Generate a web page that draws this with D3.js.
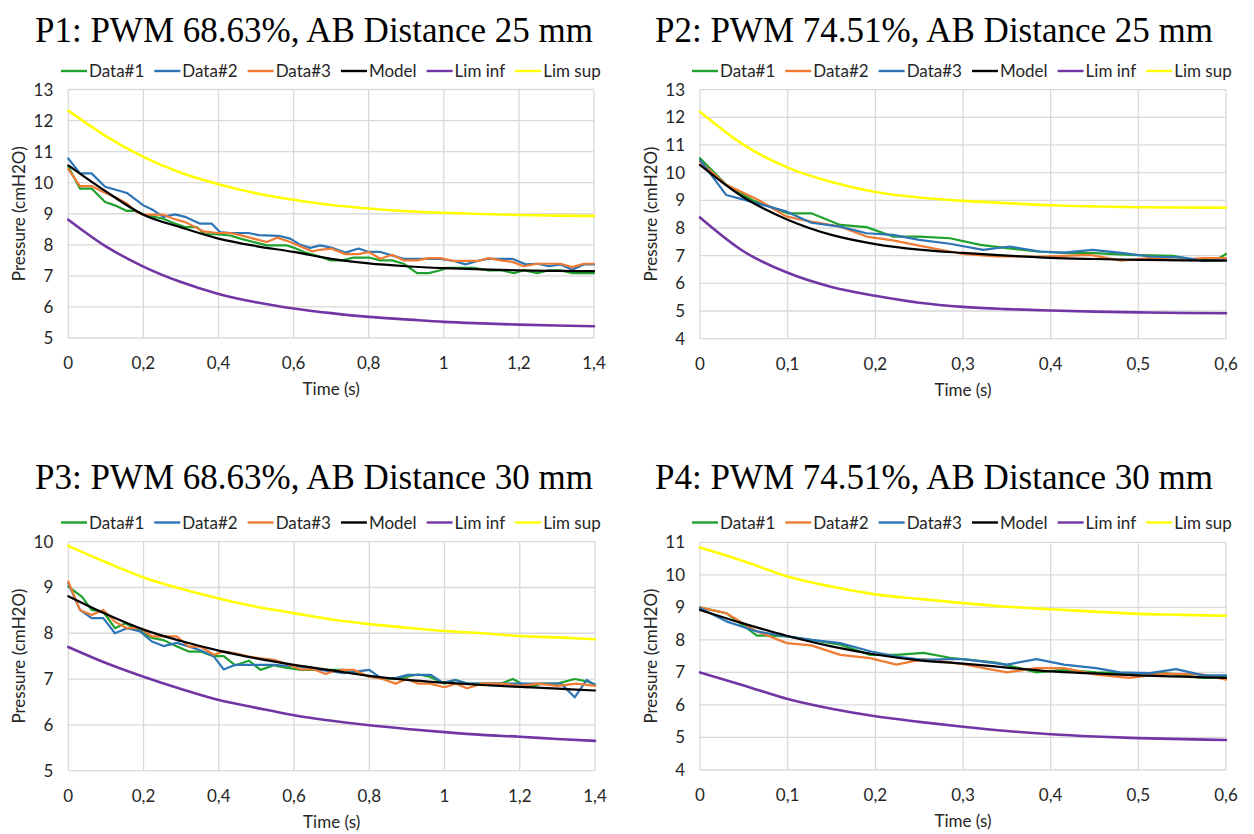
<!DOCTYPE html>
<html>
<head>
<meta charset="utf-8">
<script src="https://cdn.jsdelivr.net/npm/d3@7"></script>
<style>
    body { margin: 0; background: #fff; }
    svg { display: block; font-family: Lato, "Open Sans", sans-serif; }
    .grid line { stroke: #d9d9d9; stroke-width: 1.3; }
    .tick-label { font-size: 17px; fill: #262626; }
    .axis-title { font-size: 17px; fill: #262626; }
    .legend text { font-size: 17px; fill: #262626; }
    .title { font-family: "Liberation Serif", "Times New Roman", serif; font-size: 35px; fill: #000; }
    .line { fill: none; stroke-linejoin: round; stroke-linecap: round; }
</style>
</head>
<body>
<svg id="chart" width="1254" height="834"></svg>
<script>
// ---- Data (time in s, pressure in cmH2O) ----

const SERIES_NAMES = ['Data#1', 'Data#2', 'Data#3', 'Model', 'Lim inf', 'Lim sup'];

// P1: PWM 68.63%, AB 25 mm
const p1Data1 = [[0,10.51],[0.031,9.81],[0.062,9.81],[0.098,9.38],[0.124,9.27],[0.156,9.09],[0.18,9.09],[0.2,8.98],[0.253,8.84],[0.28,8.7],[0.311,8.57],[0.342,8.57],[0.364,8.34],[0.395,8.34],[0.431,8.3],[0.458,8.2],[0.493,8.09],[0.529,7.98],[0.582,7.98],[0.6,7.91],[0.627,7.77],[0.658,7.66],[0.7,7.5],[0.73,7.5],[0.76,7.59],[0.8,7.59],[0.831,7.5],[0.862,7.5],[0.893,7.39],[0.929,7.09],[0.96,7.09],[0.991,7.18],[1.009,7.26],[1.044,7.26],[1.08,7.26],[1.116,7.18],[1.151,7.18],[1.187,7.09],[1.213,7.18],[1.249,7.09],[1.28,7.18],[1.311,7.18],[1.342,7.09],[1.4,7.09]];
const p1Data2 = [[0,10.78],[0.031,10.3],[0.062,10.3],[0.098,9.87],[0.124,9.78],[0.156,9.67],[0.2,9.27],[0.227,9.11],[0.253,8.9],[0.284,8.98],[0.311,8.9],[0.351,8.68],[0.382,8.68],[0.404,8.41],[0.431,8.38],[0.48,8.38],[0.507,8.31],[0.56,8.29],[0.591,8.2],[0.618,8.0],[0.644,7.9],[0.671,7.98],[0.7,7.91],[0.738,7.75],[0.773,7.88],[0.8,7.77],[0.831,7.77],[0.862,7.66],[0.893,7.55],[0.929,7.55],[0.96,7.55],[0.991,7.55],[1.027,7.48],[1.058,7.37],[1.089,7.48],[1.12,7.55],[1.151,7.55],[1.182,7.55],[1.218,7.37],[1.249,7.39],[1.28,7.31],[1.311,7.37],[1.342,7.2],[1.373,7.37],[1.4,7.37]];
const p1Data3 = [[0,10.44],[0.031,9.89],[0.062,9.89],[0.093,9.7],[0.124,9.54],[0.156,9.33],[0.182,9.06],[0.2,8.97],[0.253,8.97],[0.28,8.84],[0.311,8.73],[0.338,8.57],[0.36,8.43],[0.396,8.38],[0.431,8.38],[0.458,8.31],[0.493,8.2],[0.529,8.09],[0.556,8.23],[0.591,8.09],[0.622,7.93],[0.649,7.79],[0.671,7.84],[0.7,7.88],[0.738,7.7],[0.773,7.7],[0.8,7.77],[0.831,7.55],[0.862,7.68],[0.893,7.5],[0.929,7.5],[0.96,7.57],[0.991,7.57],[1.027,7.48],[1.058,7.48],[1.089,7.48],[1.12,7.57],[1.151,7.5],[1.182,7.45],[1.213,7.31],[1.249,7.39],[1.28,7.39],[1.311,7.39],[1.342,7.28],[1.373,7.39],[1.4,7.39]];
const p1SmoothTime = [0,0.1,0.2,0.3,0.4,0.5,0.6,0.7,0.8,0.9,1.0,1.1,1.2,1.3,1.4];
const p1Model  = [10.56,9.72,8.97,8.56,8.2,7.96,7.77,7.55,7.4,7.31,7.25,7.21,7.18,7.16,7.15];
const p1LimInf = [8.81,7.95,7.3,6.8,6.42,6.15,5.95,5.8,5.68,5.6,5.52,5.47,5.43,5.4,5.38];
const p1LimSup = [12.32,11.5,10.83,10.32,9.95,9.66,9.45,9.28,9.17,9.08,9.03,8.99,8.96,8.94,8.93];

// P2: PWM 74.51%, AB 25 mm
const p2Data1 = [[0,10.52],[0.03,9.56],[0.06,9.0],[0.1,8.53],[0.127,8.53],[0.16,8.11],[0.19,8.03],[0.22,7.69],[0.25,7.69],[0.285,7.63],[0.32,7.39],[0.35,7.27],[0.385,7.15],[0.42,7.09],[0.45,7.09],[0.49,7.03],[0.54,6.99],[0.56,6.87],[0.59,6.87],[0.6,7.06]];
const p2Data2 = [[0,10.4],[0.03,9.56],[0.065,9.04],[0.099,8.41],[0.127,8.23],[0.16,8.05],[0.19,7.69],[0.22,7.55],[0.25,7.36],[0.285,7.15],[0.3,7.06],[0.338,6.97],[0.388,6.97],[0.415,6.99],[0.445,7.03],[0.48,6.82],[0.513,6.91],[0.543,6.85],[0.574,6.91],[0.6,6.91]];
const p2Data3 = [[0,10.46],[0.03,9.19],[0.053,9.0],[0.099,8.59],[0.127,8.19],[0.16,8.05],[0.19,7.81],[0.22,7.75],[0.25,7.57],[0.285,7.43],[0.323,7.21],[0.353,7.33],[0.388,7.15],[0.415,7.11],[0.448,7.21],[0.483,7.09],[0.513,6.97],[0.551,6.93],[0.574,6.81],[0.6,6.84]];
const p2SmoothTime = [0,0.05,0.1,0.15,0.2,0.25,0.3,0.35,0.4,0.45,0.5,0.55,0.6];
const p2Model  = [10.28,9.1,8.3,7.75,7.42,7.22,7.1,7.0,6.92,6.88,6.85,6.83,6.82];
const p2LimInf = [8.38,7.15,6.38,5.87,5.55,5.3,5.15,5.07,5.02,4.98,4.95,4.93,4.92];
const p2LimSup = [12.2,11.0,10.18,9.66,9.3,9.1,8.98,8.9,8.82,8.78,8.75,8.74,8.73];

// P3: PWM 68.63%, AB 30 mm
const p3Data1 = [[0,9.02],[0.036,8.8],[0.062,8.51],[0.093,8.47],[0.124,8.11],[0.151,8.22],[0.191,8.05],[0.222,7.9],[0.253,7.85],[0.289,7.71],[0.32,7.6],[0.351,7.6],[0.387,7.5],[0.413,7.5],[0.444,7.3],[0.48,7.4],[0.511,7.2],[0.547,7.3],[0.578,7.25],[0.618,7.2],[0.653,7.2],[0.698,7.2],[0.73,7.2],[0.76,7.15],[0.8,7.05],[0.835,7.02],[0.87,7.0],[0.9,7.05],[0.93,7.1],[0.96,7.05],[1.0,6.9],[1.03,6.98],[1.06,6.9],[1.1,6.9],[1.15,6.9],[1.182,7.0],[1.22,6.82],[1.26,6.9],[1.3,6.9],[1.346,7.0],[1.378,6.95],[1.4,6.88]];
const p3Data2 = [[0,9.09],[0.031,8.51],[0.062,8.33],[0.093,8.33],[0.124,8.0],[0.156,8.11],[0.191,8.04],[0.222,7.82],[0.253,7.72],[0.289,7.79],[0.32,7.71],[0.351,7.63],[0.387,7.49],[0.413,7.21],[0.444,7.31],[0.48,7.31],[0.511,7.31],[0.547,7.31],[0.578,7.29],[0.618,7.27],[0.671,7.2],[0.733,7.13],[0.8,7.2],[0.831,7.02],[0.87,7.02],[0.902,7.09],[0.938,7.09],[0.964,7.09],[0.995,6.92],[1.027,6.98],[1.062,6.9],[1.1,6.9],[1.2,6.9],[1.31,6.9],[1.346,6.6],[1.378,6.98],[1.4,6.87]];
const p3Data3 = [[0,9.13],[0.031,8.51],[0.062,8.4],[0.093,8.51],[0.124,8.25],[0.156,8.11],[0.191,8.11],[0.222,7.93],[0.253,7.93],[0.289,7.93],[0.32,7.71],[0.351,7.71],[0.387,7.53],[0.413,7.6],[0.444,7.56],[0.48,7.49],[0.511,7.45],[0.547,7.42],[0.578,7.34],[0.618,7.21],[0.653,7.21],[0.684,7.11],[0.7,7.16],[0.73,7.2],[0.76,7.2],[0.8,7.05],[0.835,7.0],[0.87,6.9],[0.9,7.0],[0.93,6.9],[0.96,6.9],[1.0,6.82],[1.03,6.9],[1.06,6.8],[1.1,6.9],[1.15,6.9],[1.2,6.85],[1.25,6.9],[1.3,6.85],[1.35,6.9],[1.4,6.85]];
const p3SmoothTime = [0,0.1,0.2,0.3,0.4,0.5,0.6,0.7,0.8,0.9,1.0,1.1,1.2,1.3,1.4];
const p3Model  = [8.81,8.42,8.08,7.83,7.62,7.45,7.31,7.19,7.07,6.98,6.92,6.87,6.83,6.79,6.75];
const p3LimInf = [7.7,7.35,7.05,6.78,6.54,6.37,6.21,6.09,5.99,5.91,5.84,5.78,5.74,5.69,5.65];
const p3LimSup = [9.91,9.55,9.22,8.97,8.76,8.58,8.44,8.3,8.2,8.12,8.05,8.0,7.94,7.91,7.87];

// P4: PWM 74.51%, AB 30 mm
const p4Data1 = [[0,9.0],[0.03,8.82],[0.065,8.13],[0.08,8.13],[0.099,8.11],[0.127,8.0],[0.16,7.85],[0.194,7.54],[0.224,7.54],[0.255,7.6],[0.285,7.45],[0.338,7.3],[0.384,7.0],[0.415,7.08],[0.452,7.0],[0.49,6.98],[0.53,6.98],[0.574,6.83],[0.6,6.86]];
const p4Data2 = [[0,9.0],[0.03,8.82],[0.065,8.26],[0.099,7.9],[0.127,7.83],[0.16,7.54],[0.194,7.44],[0.224,7.24],[0.255,7.41],[0.285,7.31],[0.3,7.25],[0.35,7.0],[0.384,7.13],[0.415,7.13],[0.452,6.93],[0.49,6.83],[0.528,6.96],[0.574,6.93],[0.6,6.78]];
const p4Data3 = [[0,8.98],[0.03,8.57],[0.065,8.26],[0.099,8.11],[0.127,8.0],[0.16,7.9],[0.194,7.65],[0.224,7.49],[0.255,7.39],[0.285,7.41],[0.3,7.41],[0.35,7.24],[0.384,7.41],[0.415,7.24],[0.452,7.13],[0.479,7.0],[0.513,6.98],[0.543,7.1],[0.574,6.91],[0.6,6.91]];
const p4SmoothTime = [0,0.05,0.1,0.15,0.2,0.25,0.3,0.35,0.4,0.45,0.5,0.55,0.6];
const p4Model  = [8.92,8.5,8.12,7.8,7.55,7.37,7.27,7.15,7.03,6.97,6.91,6.87,6.83];
const p4LimInf = [7.0,6.6,6.18,5.88,5.65,5.48,5.33,5.2,5.1,5.03,4.98,4.95,4.92];
const p4LimSup = [10.84,10.42,9.95,9.64,9.4,9.26,9.13,9.02,8.94,8.87,8.8,8.77,8.74];

// Ticks
const xTicksLong  = [0,0.2,0.4,0.6,0.8,1,1.2,1.4];
const xTicksShort = [0,0.1,0.2,0.3,0.4,0.5,0.6];
const p1YTicks = [5,6,7,8,9,10,11,12,13];
const p2YTicks = [4,5,6,7,8,9,10,11,12,13];
const p3YTicks = [5,6,7,8,9,10];
const p4YTicks = [4,5,6,7,8,9,10,11];

// ---- Styles ----
const GREEN = '#1fa22d', BLUE = '#2e75b6', ORANGE = '#f07b34';
const BLACK = '#000000', PURPLE = '#7236a4', YELLOW = '#ffff00';

const zip = (ts, vs) => ts.map((t, i) => [t, vs[i]]);

const panels = [
    {
        title: 'P1: PWM 68.63%, AB Distance 25 mm', titleX: 314, titleY: 42,
        box: { left: 68.3, right: 594, top: 89.5, bottom: 338 },
        xDomain: [0, 1.4], xTicks: xTicksLong, yDomain: [5, 13], yTicks: p1YTicks,
        legendX: 61, legendY: 71,
        series: [
            { name: SERIES_NAMES[0], color: GREEN,  data: p1Data1 },
            { name: SERIES_NAMES[1], color: BLUE,   data: p1Data2 },
            { name: SERIES_NAMES[2], color: ORANGE, data: p1Data3 },
            { name: SERIES_NAMES[3], color: BLACK,  data: zip(p1SmoothTime, p1Model), smooth: true },
            { name: SERIES_NAMES[4], color: PURPLE, data: zip(p1SmoothTime, p1LimInf), smooth: true, wide: true },
            { name: SERIES_NAMES[5], color: YELLOW, data: zip(p1SmoothTime, p1LimSup), smooth: true, wide: true }
        ]
    },
    {
        title: 'P2: PWM 74.51%, AB Distance 25 mm', titleX: 934, titleY: 42,
        box: { left: 700, right: 1226, top: 89.6, bottom: 338.7 },
        xDomain: [0, 0.6], xTicks: xTicksShort, yDomain: [4, 13], yTicks: p2YTicks,
        legendX: 692, legendY: 71,
        series: [
            { name: SERIES_NAMES[0], color: GREEN,  data: p2Data1 },
            { name: SERIES_NAMES[1], color: ORANGE, data: p2Data2 },
            { name: SERIES_NAMES[2], color: BLUE,   data: p2Data3 },
            { name: SERIES_NAMES[3], color: BLACK,  data: zip(p2SmoothTime, p2Model), smooth: true },
            { name: SERIES_NAMES[4], color: PURPLE, data: zip(p2SmoothTime, p2LimInf), smooth: true, wide: true },
            { name: SERIES_NAMES[5], color: YELLOW, data: zip(p2SmoothTime, p2LimSup), smooth: true, wide: true }
        ]
    },
    {
        title: 'P3: PWM 68.63%, AB Distance 30 mm', titleX: 314, titleY: 489,
        box: { left: 68.3, right: 595, top: 541.7, bottom: 770.6 },
        xDomain: [0, 1.4], xTicks: xTicksLong, yDomain: [5, 10], yTicks: p3YTicks,
        legendX: 61, legendY: 522.5,
        series: [
            { name: SERIES_NAMES[0], color: GREEN,  data: p3Data1 },
            { name: SERIES_NAMES[1], color: BLUE,   data: p3Data2 },
            { name: SERIES_NAMES[2], color: ORANGE, data: p3Data3 },
            { name: SERIES_NAMES[3], color: BLACK,  data: zip(p3SmoothTime, p3Model), smooth: true },
            { name: SERIES_NAMES[4], color: PURPLE, data: zip(p3SmoothTime, p3LimInf), smooth: true, wide: true },
            { name: SERIES_NAMES[5], color: YELLOW, data: zip(p3SmoothTime, p3LimSup), smooth: true, wide: true }
        ]
    },
    {
        title: 'P4: PWM 74.51%, AB Distance 30 mm', titleX: 934, titleY: 489,
        box: { left: 700, right: 1226, top: 542.3, bottom: 770 },
        xDomain: [0, 0.6], xTicks: xTicksShort, yDomain: [4, 11], yTicks: p4YTicks,
        legendX: 692, legendY: 522.5,
        series: [
            { name: SERIES_NAMES[0], color: GREEN,  data: p4Data1 },
            { name: SERIES_NAMES[1], color: ORANGE, data: p4Data2 },
            { name: SERIES_NAMES[2], color: BLUE,   data: p4Data3 },
            { name: SERIES_NAMES[3], color: BLACK,  data: zip(p4SmoothTime, p4Model), smooth: true },
            { name: SERIES_NAMES[4], color: PURPLE, data: zip(p4SmoothTime, p4LimInf), smooth: true, wide: true },
            { name: SERIES_NAMES[5], color: YELLOW, data: zip(p4SmoothTime, p4LimSup), smooth: true, wide: true }
        ]
    }
];

const svg = d3.select('#chart');
const fmt = d => String(d).replace('.', ',');

function renderPanel(p) {
    const b = p.box;
    const x = d3.scaleLinear().domain(p.xDomain).range([b.left, b.right]);
    const y = d3.scaleLinear().domain(p.yDomain).range([b.bottom, b.top]);
    const g = svg.append('g');

    // Title
    g.append('text')
        .attr('class', 'title')
        .attr('x', p.titleX)
        .attr('y', p.titleY)
        .attr('text-anchor', 'middle')
        .text(p.title);

    // Grid lines
    const grid = g.append('g').attr('class', 'grid');
    grid.selectAll('.hg')
        .data(p.yTicks)
        .enter().append('line')
        .attr('x1', b.left).attr('x2', b.right)
        .attr('y1', d => y(d)).attr('y2', d => y(d));
    grid.selectAll('.vg')
        .data(p.xTicks)
        .enter().append('line')
        .attr('x1', d => x(d)).attr('x2', d => x(d))
        .attr('y1', b.top).attr('y2', b.bottom);

    // Tick labels
    g.selectAll('.ytl')
        .data(p.yTicks)
        .enter().append('text')
        .attr('class', 'tick-label')
        .attr('x', b.left - 15)
        .attr('y', d => y(d) + 6)
        .attr('text-anchor', 'end')
        .text(d => fmt(d));
    g.selectAll('.xtl')
        .data(p.xTicks)
        .enter().append('text')
        .attr('class', 'tick-label')
        .attr('x', d => x(d))
        .attr('y', b.bottom + 31)
        .attr('text-anchor', 'middle')
        .text(d => fmt(d));

    // Axis titles
    g.append('text')
        .attr('class', 'axis-title')
        .attr('x', (b.left + b.right) / 2)
        .attr('y', b.bottom + 57)
        .attr('text-anchor', 'middle')
        .text('Time (s)');
    g.append('text')
        .attr('class', 'axis-title')
        .attr('transform', `translate(${b.left - 49},${(b.top + b.bottom) / 2}) rotate(-90)`)
        .attr('dy', '0.35em')
        .attr('text-anchor', 'middle')
        .text('Pressure (cmH2O)');

    // Lines
    const linear = d3.line().x(d => x(d[0])).y(d => y(d[1]));
    const smooth = d3.line().curve(d3.curveMonotoneX).x(d => x(d[0])).y(d => y(d[1]));
    p.series.forEach(s => {
        g.append('path')
            .datum(s.data)
            .attr('class', 'line')
            .attr('d', s.smooth ? smooth : linear)
            .attr('stroke', s.color)
            .attr('stroke-width', s.wide ? 2.6 : 2.2);
    });

    // Legend
    const legend = g.append('g').attr('class', 'legend');
    let cx = p.legendX;
    p.series.forEach(s => {
        legend.append('line')
            .attr('x1', cx).attr('x2', cx + 26)
            .attr('y1', p.legendY).attr('y2', p.legendY)
            .attr('stroke', s.color)
            .attr('stroke-width', 2.4);
        const t = legend.append('text')
            .attr('x', cx + 28)
            .attr('y', p.legendY + 6)
            .text(s.name);
        cx += 28 + t.node().getComputedTextLength() + 10;
    });
}

panels.forEach(renderPanel);
</script>
</body>
</html>
